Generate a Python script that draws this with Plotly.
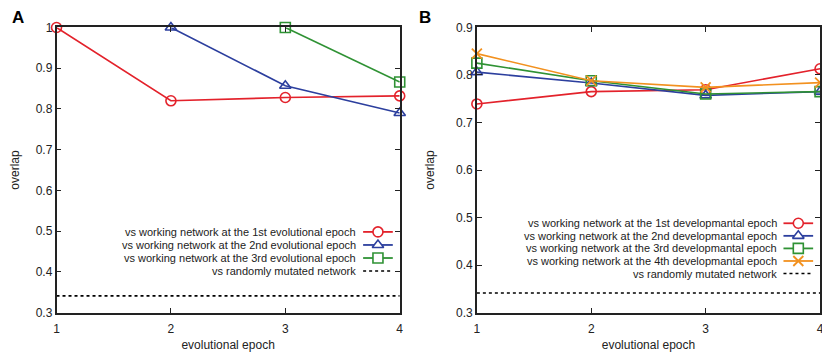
import plotly.graph_objects as go

# ---------------- data ----------------
epochs = [1, 2, 3, 4]

# Panel A (evolutional epochs)
a_vs1 = [1.0, 0.820, 0.828, 0.832]
a_vs2_x = [2, 3, 4]
a_vs2 = [1.0, 0.857, 0.790]
a_vs3_x = [3, 4]
a_vs3 = [1.0, 0.866]
a_random = 0.341

# Panel B (developmental epochs)
b_vs1 = [0.739, 0.765, 0.769, 0.813]
b_vs2 = [0.806, 0.783, 0.757, 0.765]
b_vs3 = [0.825, 0.788, 0.760, 0.765]
b_vs4 = [0.845, 0.788, 0.774, 0.784]
b_random = 0.341

a_yticks = [0.3, 0.4, 0.5, 0.6, 0.7, 0.8, 0.9, 1.0]
a_yticklabels = ["0.3", "0.4", "0.5", "0.6", "0.7", "0.8", "0.9", "1"]
b_yticks = [0.3, 0.4, 0.5, 0.6, 0.7, 0.8, 0.9]
b_yticklabels = ["0.3", "0.4", "0.5", "0.6", "0.7", "0.8", "0.9"]
xticklabels = ["1", "2", "3", "4"]

a_labels = [
    "vs working network at the 1st evolutional epoch",
    "vs working network at the 2nd evolutional epoch",
    "vs working network at the 3rd evolutional epoch",
    "vs randomly mutated network",
]
b_labels = [
    "vs working network at the 1st developmantal epoch",
    "vs working network at the 2nd developmantal epoch",
    "vs working network at the 3rd developmantal epoch",
    "vs working network at the 4th developmantal epoch",
    "vs randomly mutated network",
]

# ---------------- style ----------------
RED = "#e3222b"
BLUE = "#2c3f9e"
GREEN = "#2f9234"
ORANGE = "#f2911f"
FONT = "Liberation Sans"
WIN_W, WIN_H = 830, 356
OFF = 8                      # page body margin
W, H = WIN_W - OFF, WIN_H - OFF
CLEAR = "rgba(0,0,0,0)"

def px(x):
    return (x - OFF) / W

def py(y):
    return 1 - (y - OFF) / H

fig = go.Figure()

def marker_style(color, symbol, size=10):
    if symbol == "x-thin-open":
        return dict(symbol=symbol, size=size, color=color, line=dict(color=color, width=1.8))
    return dict(symbol=symbol, size=size, color=CLEAR, line=dict(color=color, width=1.6))

def line(x, y, color, symbol, xa, ya):
    fig.add_trace(go.Scatter(
        x=x, y=y, mode="lines+markers", xaxis=xa, yaxis=ya,
        line=dict(color=color, width=1.6),
        marker=marker_style(color, symbol),
        showlegend=False, hoverinfo="skip", cliponaxis=False))

def hline(yv, xa, ya):
    fig.add_trace(go.Scatter(
        x=[1, 4], y=[yv, yv], mode="lines", xaxis=xa, yaxis=ya,
        line=dict(color="black", width=1.6, dash="dot"),
        showlegend=False, hoverinfo="skip"))

# Panel A
line(epochs, a_vs1, RED, "circle", "x", "y")
line(a_vs2_x, a_vs2, BLUE, "triangle-up", "x", "y")
line(a_vs3_x, a_vs3, GREEN, "square", "x", "y")
hline(a_random, "x", "y")

# Panel B
line(epochs, b_vs1, RED, "circle", "x2", "y2")
line(epochs, b_vs2, BLUE, "triangle-up", "x2", "y2")
line(epochs, b_vs3, GREEN, "square", "x2", "y2")
line(epochs, b_vs4, ORANGE, "x-thin-open", "x2", "y2")
hline(b_random, "x2", "y2")

# ---------------- manual legends (pixel space overlay axis) ----------------
annotations = []

def legend(labels, styles, text_right, sym_left, sym_right, y0, dy):
    for i, (lab, st) in enumerate(zip(labels, styles)):
        yy = y0 + i * dy
        annotations.append(dict(
            x=px(text_right), y=py(yy), xref="paper", yref="paper",
            text=lab, showarrow=False, xanchor="right", yanchor="middle",
            font=dict(family=FONT, size=11, color="#222")))
        color, symbol = st
        if symbol is None:
            fig.add_trace(go.Scatter(
                x=[sym_left, sym_right], y=[yy, yy], mode="lines",
                xaxis="x3", yaxis="y3",
                line=dict(color="black", width=1.6, dash="dot"),
                showlegend=False, hoverinfo="skip"))
        else:
            fig.add_trace(go.Scatter(
                x=[sym_left, sym_right], y=[yy, yy], mode="lines",
                xaxis="x3", yaxis="y3", line=dict(color=color, width=1.8),
                showlegend=False, hoverinfo="skip"))
            ms = marker_style(color, symbol)
            if symbol != "x-thin-open":
                ms["color"] = "white"
            fig.add_trace(go.Scatter(
                x=[(sym_left + sym_right) / 2], y=[yy], mode="markers",
                xaxis="x3", yaxis="y3", marker=ms,
                showlegend=False, hoverinfo="skip"))

legend(a_labels,
       [(RED, "circle"), (BLUE, "triangle-up"), (GREEN, "square"), ("black", None)],
       357, 362, 392, 234, 13.6)
legend(b_labels,
       [(RED, "circle"), (BLUE, "triangle-up"), (GREEN, "square"),
        (ORANGE, "x-thin-open"), ("black", None)],
       782, 787, 817, 225, 13.1)

# Panel letters
annotations.append(dict(x=px(5), y=py(11), xref="paper", yref="paper", text="<b>A</b>",
                        showarrow=False, xanchor="left", yanchor="middle",
                        font=dict(family=FONT, size=17, color="black")))
annotations.append(dict(x=px(416), y=py(11), xref="paper", yref="paper", text="<b>B</b>",
                        showarrow=False, xanchor="left", yanchor="middle",
                        font=dict(family=FONT, size=17, color="black")))

ydom = [py(318), py(21)]
common_x = dict(range=[1, 4], tickvals=epochs, ticktext=xticklabels,
                ticks="inside", ticklen=5, tickwidth=1.2, tickcolor="#222",
                showline=True, linecolor="#222", linewidth=1.5, mirror="ticks",
                showgrid=False, zeroline=False, ticklabelstandoff=4,
                tickfont=dict(family=FONT, size=12, color="#222"),
                title=dict(text="evolutional epoch", standoff=6,
                           font=dict(family=FONT, size=12, color="#222")))
common_y = dict(ticks="inside", ticklen=5, tickwidth=1.2, tickcolor="#222",
                showline=True, linecolor="#222", linewidth=1.5, mirror="ticks",
                showgrid=False, zeroline=False, domain=ydom,
                tickfont=dict(family=FONT, size=12, color="#222"),
                title=dict(text="overlap", standoff=19,
                           font=dict(family=FONT, size=12, color="#222")))

fig.update_layout(
    width=W, height=H, margin=dict(l=0, r=0, t=0, b=0),
    paper_bgcolor="white", plot_bgcolor=CLEAR,
    xaxis=dict(domain=[px(52), px(399)], anchor="y", **common_x),
    yaxis=dict(anchor="x", range=[0.3, 1.0], tickvals=a_yticks, ticktext=a_yticklabels, **common_y),
    xaxis2=dict(domain=[px(477), px(824)], anchor="y2", **common_x),
    yaxis2=dict(anchor="x2", range=[0.3, 0.9], tickvals=b_yticks, ticktext=b_yticklabels, **common_y),
    xaxis3=dict(domain=[0, 1], range=[OFF, WIN_W], visible=False, anchor="y3", fixedrange=True),
    yaxis3=dict(domain=[0, 1], range=[WIN_H, OFF], visible=False, anchor="x3", fixedrange=True),
    annotations=annotations,
    showlegend=False,
)

fig.write_html("out.html")
